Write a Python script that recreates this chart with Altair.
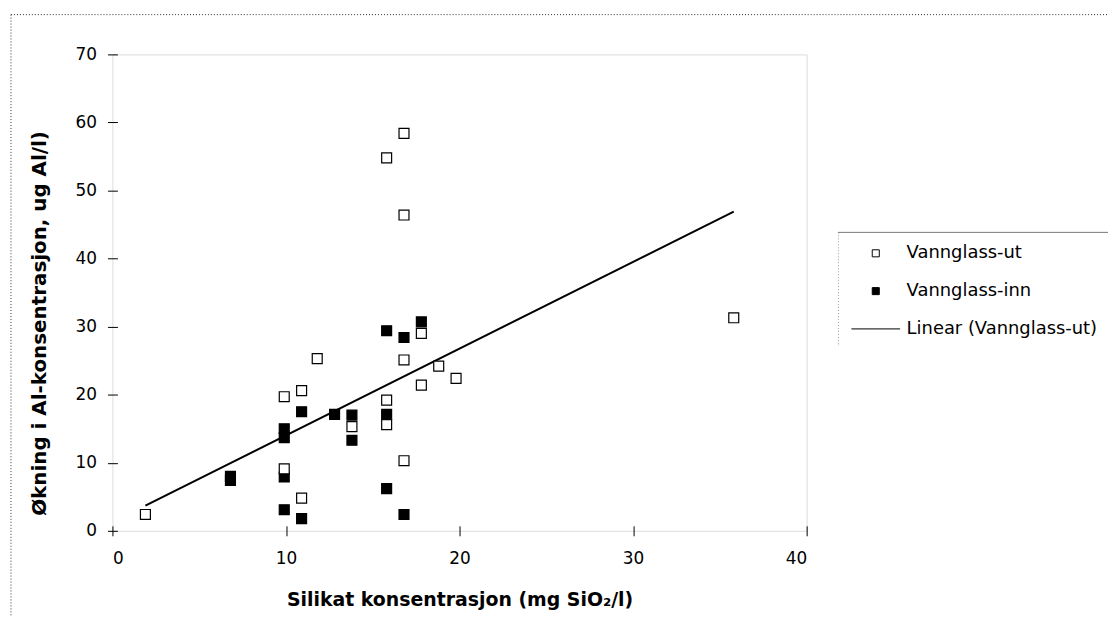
import altair as alt
import pandas as pd

# ---- data ----
ut_x = [1.9, 9.9, 10.9, 11.8, 9.9, 10.9, 13.8, 17.8, 16.8, 18.8, 19.8, 17.8, 15.8, 15.8, 16.8, 16.8, 15.8, 16.8, 35.8]
ut_y = [2.4, 19.7, 20.6, 25.3, 9.1, 4.8, 15.3, 29.0, 25.1, 24.2, 22.4, 21.4, 19.2, 15.6, 10.3, 58.4, 54.8, 46.4, 31.3]

inn_x = [6.8, 6.8, 9.9, 9.9, 9.9, 9.9, 10.9, 10.9, 12.8, 13.8, 13.8, 15.8, 15.8, 15.8, 16.8, 16.8, 17.8]
inn_y = [8.0, 7.4, 15.0, 13.7, 7.9, 3.1, 17.5, 1.8, 17.1, 17.0, 13.3, 29.4, 17.1, 6.2, 28.4, 2.4, 30.7]

# Excel linear trendline of "Vannglass-ut", end points
trend_x = [1.9, 35.8]
trend_y = [3.7, 46.9]

x_ticks = [0, 10, 20, 30, 40]
y_ticks = [0, 10, 20, 30, 40, 50, 60, 70]

SER_UT = "Vannglass-ut"
SER_INN = "Vannglass-inn"
SER_LIN = "Linear (Vannglass-ut)"
series = [SER_UT, SER_INN, SER_LIN]

points = pd.DataFrame({
    "x": inn_x + ut_x,
    "y": inn_y + ut_y,
    "serie": [SER_INN] * len(inn_x) + [SER_UT] * len(ut_x),
})
trend = pd.DataFrame({"x": trend_x, "y": trend_y})
one = pd.DataFrame({"a": [0]})

FONT = "DejaVu Sans"
W, H = 698, 479

xscale = alt.Scale(domain=[0, 40], nice=False, zero=False)
yscale = alt.Scale(domain=[0, 70], nice=False, zero=False)

x_axis = alt.Axis(
    values=x_ticks, title="Silikat konsentrasjon (mg SiO₂/l)", domain=False, grid=False,
    offset=-5, tickSize=10, tickColor="black", tickWidth=1,
    labelPadding=15, labelFont=FONT, labelFontSize=17, labelColor="black",
    titleFont=FONT, titleFontSize=19, titleFontWeight="bold", titleColor="black",
    titleY=74, titleBaseline="middle",
)
y_axis = alt.Axis(
    values=y_ticks, title="Økning i Al-konsentrasjon, ug Al/l)", domain=False, grid=False,
    offset=-5, tickSize=10, tickColor="black", tickWidth=1,
    labelPadding=11, labelFont=FONT, labelFontSize=17, labelColor="black",
    titleFont=FONT, titleFontSize=20, titleFontWeight="bold", titleColor="black",
    titleX=-78, titleY=270, titleAlign="center", titleBaseline="middle", titleAngle=270,
)

legend = alt.Legend(
    title=None, orient="none", legendX=730, legendY=179,
    padding=12, rowPadding=20, symbolOffset=16.5, labelOffset=22, labelLimit=500,
    labelFont=FONT, labelFontSize=18, labelColor="black",
    symbolSize=50, symbolStrokeWidth=1, symbolOpacity=1,
    fillColor="white",
)

line = alt.Chart(trend).mark_line(color="black", strokeWidth=2).encode(
    x=alt.X("x:Q", scale=xscale, axis=x_axis),
    y=alt.Y("y:Q", scale=yscale, axis=y_axis),
)

pts = alt.Chart(points).mark_point(
    filled=True, strokeWidth=1.2, size=100, opacity=1
).encode(
    x=alt.X("x:Q", scale=xscale),
    y=alt.Y("y:Q", scale=yscale),
    fill=alt.Fill("serie:N", scale=alt.Scale(domain=series, range=["white", "black", "black"]), legend=legend),
    stroke=alt.Stroke("serie:N", scale=alt.Scale(domain=series, range=["black", "black", "black"]), legend=legend),
    shape=alt.Shape("serie:N", scale=alt.Scale(domain=series, range=["square", "square", "M-6.93,0H6.93"]), legend=legend),
)

dotted = dict(color="#333333", strokeDash=[1, 2], strokeWidth=1)
# chart-area border (dotted) and legend frame
top_border = alt.Chart(one).mark_rule(**dotted).encode(
    x=alt.value(-102), x2=alt.value(1003), y=alt.value(-40)
)
left_border = alt.Chart(one).mark_rule(**dotted).encode(
    x=alt.value(-102), y=alt.value(-40), y2=alt.value(574)
)
legend_top = alt.Chart(one).mark_rule(color="black", strokeWidth=1).encode(
    x=alt.value(730), x2=alt.value(1003), y=alt.value(179)
)
legend_left = alt.Chart(one).mark_rule(**dotted).encode(
    x=alt.value(730), y=alt.value(179), y2=alt.value(292)
)
legend_bottom = alt.Chart(one).mark_rule(**dotted).encode(
    x=alt.value(730), x2=alt.value(1003), y=alt.value(292)
)

chart = alt.layer(top_border, left_border, line, pts, legend_top, legend_left, legend_bottom).properties(
    width=W, height=H,
    padding={"left": 105, "top": 45, "right": 303, "bottom": 85},
    autosize=alt.AutoSizeParams(type="none"),
).configure_view(stroke="black", strokeWidth=1).configure(background="white")

chart.save("out.html", embed_options={"renderer": "svg", "actions": False})
